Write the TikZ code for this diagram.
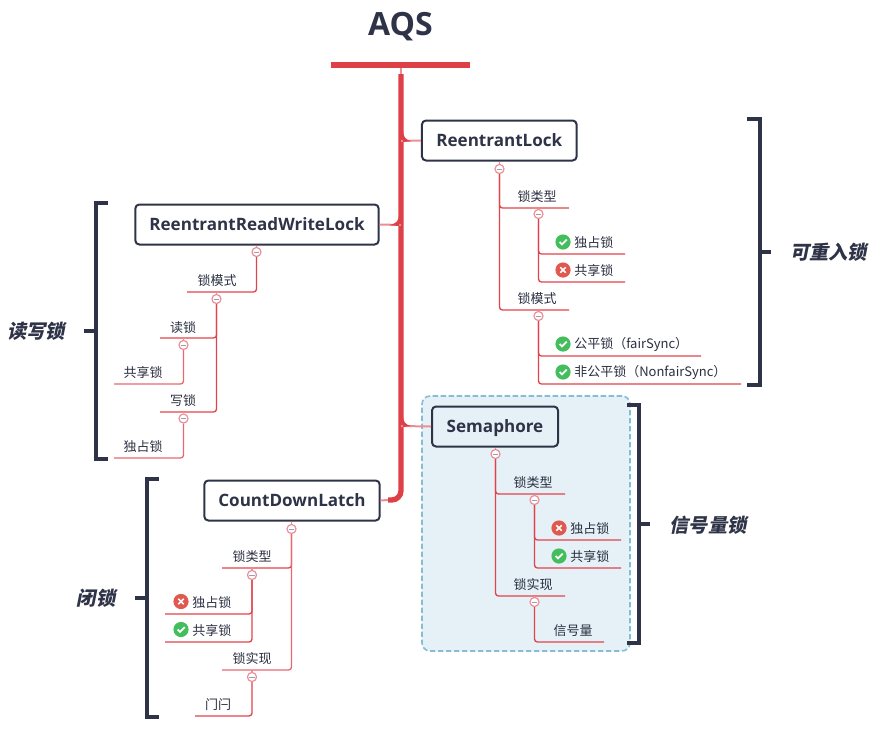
\documentclass[tikz,border=0pt]{standalone}
\usepackage{fontspec}
\setmainfont{Noto Sans CJK SC}
\newfontfamily\latinb{Open Sans}
\usetikzlibrary{positioning}
\definecolor{ink}{HTML}{2F3347}
\definecolor{redline}{HTML}{E2434B}
\definecolor{pinkline}{HTML}{EC8E96}
\definecolor{trunkred}{HTML}{DE4047}
\definecolor{okgreen}{HTML}{44BE5D}
\definecolor{nored}{HTML}{E0584E}
\definecolor{dashblue}{HTML}{84BED5}
\definecolor{panelfill}{HTML}{E5F1F6}
\definecolor{minusgrey}{HTML}{9A9DBC}
\tikzset{
  x=0.75pt,y=-0.75pt,
  topicbox/.style={draw=ink,line width=1.5pt,rounded corners=3pt,fill=white,inner sep=0pt,text height=9.6pt,text depth=0pt,font=\latinb\bfseries\fontsize{12.8}{16}\selectfont,text=ink},
  lab/.style={inner sep=0pt,yshift=-0.4pt,font=\fontsize{9.75}{12}\selectfont,text=ink!92!black},
  callout/.style={inner sep=0pt,font=\bfseries\fontsize{14.4}{17}\selectfont\addfontfeature{FakeSlant=0.2},text=ink},
  branch/.style={draw=redline,line width=1pt,rounded corners=2.2pt},
  stem/.style={draw=pinkline,line width=1pt},
  bracket/.style={draw=ink,line width=3pt},
  brtick/.style={draw=ink,line width=2.6pt},
  trunk/.style={draw=trunkred,line width=4pt},
  feeder/.style={draw=pinkline,line width=1.5pt},
  fold/.style={circle,draw=pinkline,fill=white,line width=0.9pt,minimum size=6.8pt,inner sep=0pt,
    path picture={\draw[minusgrey,line width=0.6pt] ([xshift=-2pt]path picture bounding box.center) -- ([xshift=2pt]path picture bounding box.center);}},
  okic/.style={circle,fill=okgreen,minimum size=11.4pt,inner sep=0pt,
    path picture={\draw[white,line width=1.3pt] ([xshift=-2.6pt,yshift=0pt]path picture bounding box.center) -- ([xshift=-0.7pt,yshift=-1.8pt]path picture bounding box.center) -- ([xshift=2.8pt,yshift=1.8pt]path picture bounding box.center);}},
  noic/.style={circle,fill=nored,minimum size=11.4pt,inner sep=0pt,
    path picture={\draw[white,line width=1.3pt] ([xshift=-2pt,yshift=-2pt]path picture bounding box.center) -- ([xshift=2pt,yshift=2pt]path picture bounding box.center) ([xshift=-2pt,yshift=2pt]path picture bounding box.center) -- ([xshift=2pt,yshift=-2pt]path picture bounding box.center);}},
}
\begin{document}
\begin{tikzpicture}
\useasboundingbox (0,0) rectangle (877,736);
% panel
\node[draw=dashblue,fill=panelfill,line width=1.2pt,dashed,dash pattern=on 4pt off 2pt,rounded corners=6pt,minimum width=156pt,minimum height=191.2pt,inner sep=0pt] (panel) at (526,523.5) {};

% title
\node[inner sep=0pt,font=\latinb\bfseries\fontsize{24}{28}\selectfont,text=ink] (title) at (400.5,27) {AQS};
\node[fill=trunkred,inner sep=0pt,minimum width=104.25pt,minimum height=4.5pt] (bar) at (400.5,65) {};
\coordinate (trunktop) at (401,74);

% topics
\node[topicbox,minimum width=116pt,minimum height=30pt] (rl) at (499.3,140.5) {ReentrantLock};
\node[topicbox,minimum width=182.5pt,minimum height=30pt] (rrwl) at (257,224.5) {ReentrantReadWriteLock};
\node[topicbox,fill=panelfill,minimum width=94.5pt,minimum height=30pt] (sem) at (495,426.5) {Semaphore};
\node[topicbox,minimum width=131.5pt,minimum height=30pt] (cdl) at (292,500.5) {CountDownLatch};

% trunk
\coordinate (trunkend) at (388,500);
\draw[stem,line width=1.2pt] (bar.south -| trunktop) -- (trunktop);
\draw[trunk,rounded corners=7pt] (trunktop) -- (401,500) -- (trunkend);
\draw[feeder] (trunkend) -- (cdl.east);
\draw[feeder] (401,141) -- (rl.west);
\draw[feeder] (401,225) -- (rrwl.east);
\draw[feeder] (401,426) -- (sem.west);
\fill[trunkred] (403,130) .. controls (403.5,137) and (405,139.5) .. (411,141) -- (403,142) -- cycle;
\fill[trunkred] (399,215) .. controls (398.5,221) and (397,223.5) .. (389,225) -- (399,226) -- cycle;
\fill[trunkred] (403,416) .. controls (403.5,422) and (405,424.5) .. (411,426) -- (403,427) -- cycle;

% ---------- ReentrantLock
\node[fold] (f1) at (499.5,169) {};
\draw[stem] (rl.south -| f1) -- (f1);
\coordinate (e1) at (569,208);
\coordinate (e2) at (569,310);
\draw[branch] (f1.south) |- (e1);
\draw[branch] (f1.south) |- (e2);
\node[lab] (t1) at (537,196) {锁类型};
\node[lab] (t2) at (537,298) {锁模式};
\node[fold] (f2) at (538.5,214) {};
\node[fold] (f3) at (538.5,316) {};
\draw[stem] (538.5,208) -- (f2);
\draw[stem] (538.5,310) -- (f3);
\coordinate (e3) at (625,254);
\coordinate (e4) at (625,282);
\coordinate (e5) at (701,356);
\coordinate (e6) at (741,384);
\draw[branch] (f2.south) |- (e3);
\draw[branch] (f2.south) |- (e4);
\draw[branch] (f3.south) |- (e5);
\draw[branch] (f3.south) |- (e6);
\node[okic] (i3) at (563,242) {};
\node[noic] (i4) at (563,270) {};
\node[okic] (i5) at (563,344) {};
\node[okic] (i6) at (563,372) {};
\node[lab,anchor=west] (t3) at (574,242) {独占锁};
\node[lab,anchor=west] (t4) at (574,270) {共享锁};
\node[lab,anchor=west] (t5) at (574,344) {公平锁（fairSync）};
\node[lab,anchor=west] (t6) at (574,372) {非公平锁（NonfairSync）};

% ---------- Semaphore
\node[fold] (g1) at (495.5,454) {};
\draw[stem] (sem.south -| g1) -- (g1);
\coordinate (h1) at (565,494);
\coordinate (h2) at (565,596);
\draw[branch] (g1.south) |- (h1);
\draw[branch] (g1.south) |- (h2);
\node[lab] (u1) at (533,482) {锁类型};
\node[lab] (u2) at (533,584) {锁实现};
\node[fold] (g2) at (534.5,500) {};
\node[fold] (g3) at (534.5,602) {};
\draw[stem] (534.5,494) -- (g2);
\draw[stem] (534.5,596) -- (g3);
\coordinate (h3) at (621,540);
\coordinate (h4) at (621,568);
\coordinate (h5) at (604,642);
\draw[branch] (g2.south) |- (h3);
\draw[branch] (g2.south) |- (h4);
\draw[branch] (g3.south) |- (h5);
\node[noic] (j3) at (559,528) {};
\node[okic] (j4) at (559,556) {};
\node[lab,anchor=west] (u3) at (570,528) {独占锁};
\node[lab,anchor=west] (u4) at (570,556) {共享锁};
\node[lab] (u5) at (573,630) {信号量};

% ---------- CountDownLatch
\node[fold] (k1) at (291.5,529) {};
\draw[stem] (cdl.south -| k1) -- (k1);
\coordinate (m1) at (222,568);
\coordinate (m2) at (222,670);
\draw[branch] (k1.south) |- (m1);
\draw[branch,draw=pinkline!50!redline] (k1.south) |- (m2);
\node[lab] (v1) at (252,556) {锁类型};
\node[lab] (v2) at (252,658) {锁实现};
\node[fold] (k2) at (252,575) {};
\node[fold] (k3) at (252,677) {};
\draw[stem] (252,568) -- (k2);
\draw[stem] (252,670) -- (k3);
\coordinate (m3) at (165,614);
\coordinate (m4) at (165,642);
\coordinate (m5) at (195,716);
\draw[branch] (k2.south) |- (m3);
\draw[branch] (k2.south) |- (m4);
\draw[branch] (k3.south) |- (m5);
\node[noic] (n3) at (181,601.5) {};
\node[okic] (n4) at (181,629.5) {};
\node[lab,anchor=west] (v3) at (192,602) {独占锁};
\node[lab,anchor=west] (v4) at (192,630) {共享锁};
\node[lab] (v5) at (218,704) {门闩};

% ---------- ReentrantReadWriteLock
\node[fold] (p1) at (256.5,252) {};
\draw[stem] (rrwl.south -| p1) -- (p1);
\coordinate (q1) at (187,292);
\draw[branch] (p1.south) |- (q1);
\node[lab] (w1) at (217,280) {锁模式};
\node[fold] (p2) at (216.5,299) {};
\draw[stem] (216.5,292) -- (p2);
\coordinate (q2) at (160,338);
\coordinate (q3) at (160,412);
\draw[branch] (p2.south) |- (q2);
\draw[branch] (p2.south) |- (q3);
\node[lab] (w2) at (183,327) {读锁};
\node[lab] (w3) at (183,400) {写锁};
\node[fold] (p3) at (183.5,345) {};
\node[fold] (p4) at (183.5,418.5) {};
\draw[stem] (183.5,338) -- (p3);
\draw[stem] (183.5,412) -- (p4);
\coordinate (q4) at (114,384);
\coordinate (q5) at (114,458);
\draw[branch,draw=pinkline!50!redline] (p3.south) |- (q4);
\draw[branch,draw=pinkline!50!redline] (p4.south) |- (q5);
\node[lab] (w4) at (143,372) {共享锁};
\node[lab] (w5) at (143,446) {独占锁};

% ---------- brackets
\coordinate (b1a) at (747,119);
\coordinate (b1b) at (747,384.5);
\coordinate (b1m) at (760,252);
\node[callout] (c1) at (828.5,252) {可重入锁};
\draw[bracket] (b1a) -| (b1m) |- (b1b);
\draw[brtick] (b1m) -- +(11,0);

\coordinate (b2a) at (627,405);
\coordinate (b2b) at (627,643);
\coordinate (b2m) at (639,524);
\node[callout] (c2) at (708,525) {信号量锁};
\draw[bracket] (b2a) -| (b2m) |- (b2b);
\draw[brtick] (b2m) -- +(11,0);

\coordinate (b3a) at (108,203);
\coordinate (b3b) at (108,459);
\coordinate (b3m) at (96,331);
\node[callout] (c3) at (36,331) {读写锁};
\draw[bracket] (b3a) -| (b3m) |- (b3b);
\draw[brtick] (b3m) -- +(-12,0);

\coordinate (b4a) at (159,478.5);
\coordinate (b4b) at (159,716.5);
\coordinate (b4m) at (147,598);
\node[callout] (c4) at (96,598) {闭锁};
\draw[bracket] (b4a) -| (b4m) |- (b4b);
\draw[brtick] (b4m) -- +(-12,0);
\end{tikzpicture}
\end{document}
